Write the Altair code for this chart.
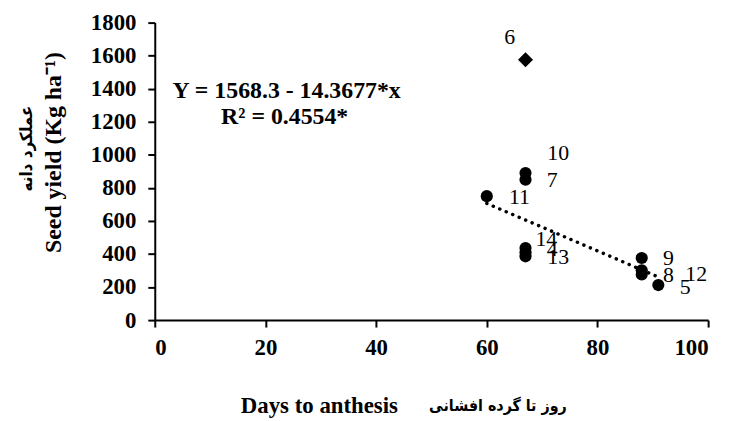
import altair as alt
import pandas as pd

# data
labels = ["6", "10", "7", "11", "14", "4", "13", "9", "8", "12", "5"]
days = [67, 67, 67, 60, 67, 67, 67, 88, 88, 88, 91]
seed_yield = [1575, 890, 850, 750, 436, 410, 386, 376, 302, 276, 212]

trend_days = [60, 91]
trend_yield = [706, 261]

x_ticks = [0, 20, 40, 60, 80, 100]
y_ticks = [0, 200, 400, 600, 800, 1000, 1200, 1400, 1600, 1800]

eq_line1 = "Y = 1568.3 - 14.3677*x"
eq_line2 = "R\u00b2 = 0.4554*"
y_title_fa = "عملکرد دانه"
y_title_en = "Seed yield (Kg ha\u207b\u00b9)"
x_title_en = "Days to anthesis"
x_title_fa = "روز تا گرده افشانی"

FONT = "Liberation Serif"
FA_FONT = "DejaVu Sans Condensed, DejaVu Sans"

df = pd.DataFrame({"label": labels, "days": days, "yield": seed_yield})
trend = pd.DataFrame({"days": trend_days, "yield": trend_yield})

xs = alt.X("days:Q", scale=alt.Scale(domain=[0, 100], nice=False),
           axis=alt.Axis(values=x_ticks, title=None, labelPadding=10, format="d"))
ys = alt.Y("yield:Q", scale=alt.Scale(domain=[0, 1800], nice=False),
           axis=alt.Axis(values=y_ticks, title=None, labelPadding=12, format="d"))

line = alt.Chart(trend).mark_line(
    color="black", strokeWidth=3.5, strokeDash=[0.1, 7], strokeCap="round"
).encode(x=xs, y=ys)

circles = alt.Chart(df).transform_filter("datum.label != '6'").mark_point(
    shape="circle", filled=True, color="black", size=150, opacity=1
).encode(x=xs, y=ys)

diamond = alt.Chart(df).transform_filter("datum.label == '6'").mark_point(
    shape="diamond", filled=True, color="black", size=230, opacity=1
).encode(x=xs, y=ys)

# label offsets (style, px)
offsets = {
    "6": (-16, -23), "10": (33, -20), "7": (27, 0), "11": (33, 1),
    "14": (21, -9), "4": (27, -3), "13": (33, 1), "9": (27, 0),
    "8": (27, 5), "12": (55, 0), "5": (27, 2),
}
label_layers = []
for lab, (dx, dy) in offsets.items():
    label_layers.append(
        alt.Chart(df).transform_filter(f"datum.label == '{lab}'").mark_text(
            font=FONT, fontSize=22, color="black", dx=dx, dy=dy,
            align="center", baseline="middle"
        ).encode(x=xs, y=ys, text="label:N")
    )

def txt(text, x, y, angle=0, size=21, font=FONT):
    return alt.Chart(pd.DataFrame({"t": [text]})).mark_text(
        font=font, fontSize=size, fontWeight="bold", color="black",
        align="center", baseline="middle", angle=angle
    ).encode(x=alt.value(x), y=alt.value(y), text="t:N")

annotations = [
    txt(eq_line1, 133, 69, size=24),
    txt(eq_line2, 131, 95, size=24),
    txt(y_title_fa, -129, 127, angle=270, size=17, font=FA_FONT),
    txt(y_title_en, -102, 131, angle=270, size=24),
    txt(x_title_en, 166, 387, size=23),
    txt(x_title_fa, 346, 387, size=16, font=FA_FONT),
]

chart = alt.layer(line, circles, diamond, *label_layers, *annotations).properties(
    width=558, height=300,
    autosize=alt.AutoSizeParams(type="none"),
    padding={"left": 148, "top": 13, "right": 15, "bottom": 100},
).configure_view(stroke=None).configure_axis(
    grid=False, domainColor="black", domainWidth=2, tickColor="black",
    tickWidth=2, tickSize=7, labelFont=FONT, labelFontSize=23,
    labelFontWeight="bold", labelColor="black"
)

chart.save("out.html", embed_options={"renderer": "svg", "actions": False})
